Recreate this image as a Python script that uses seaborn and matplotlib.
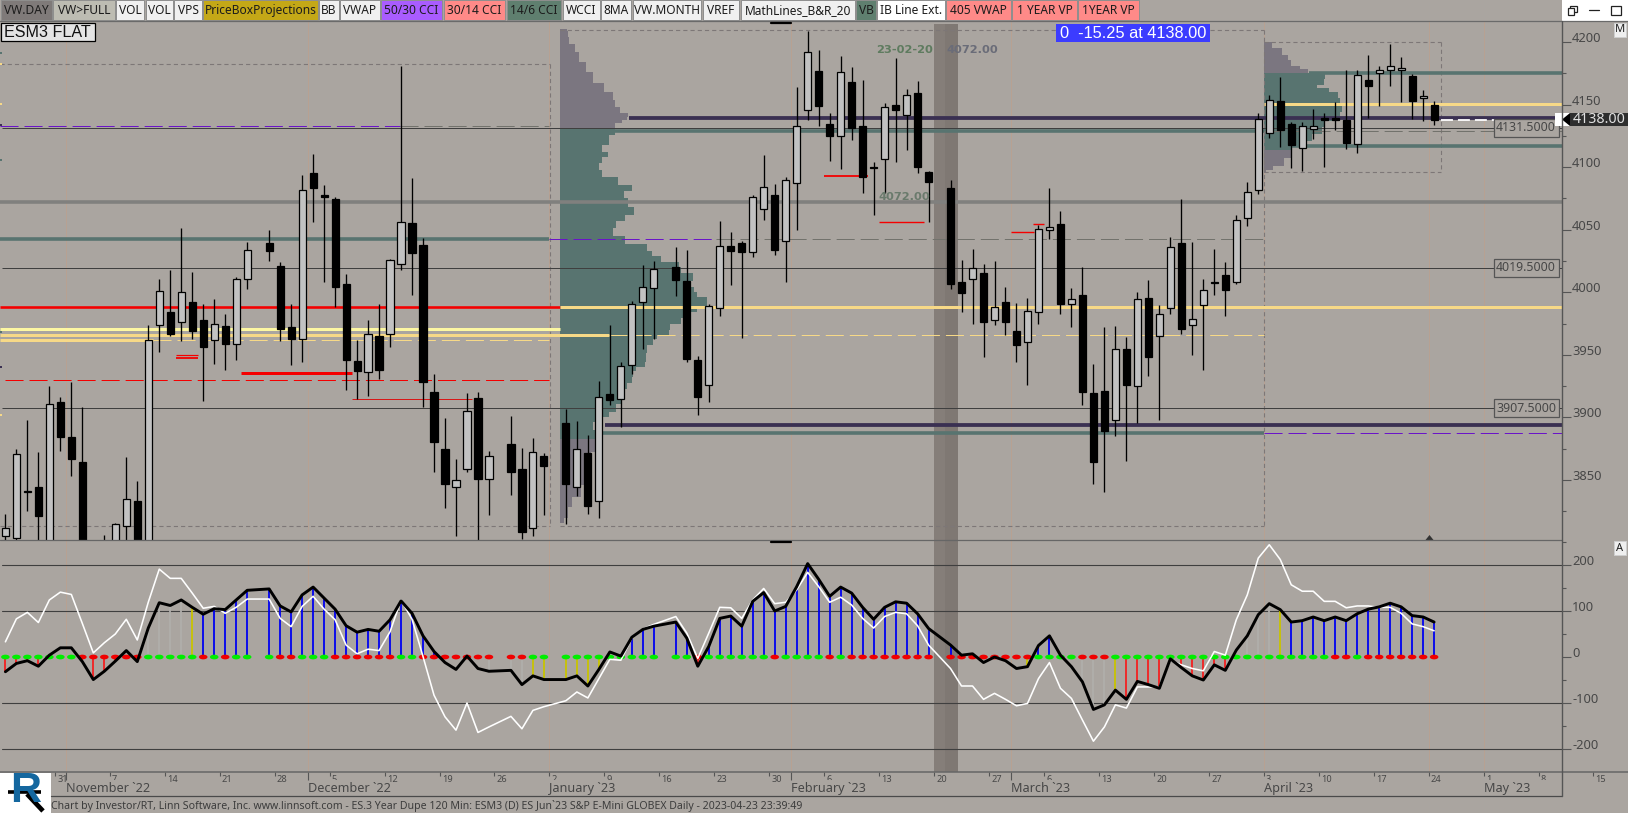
# plot.py
import numpy as np
import pandas as pd
import matplotlib
matplotlib.use('Agg')
import matplotlib.pyplot as plt
import seaborn as sns
from matplotlib.path import Path
from matplotlib.patches import Rectangle, Polygon
from matplotlib.transforms import Affine2D, Bbox, TransformedBbox, blended_transform_factory

nan = np.nan

# daily candles, one entry per weekday slot from 24 Oct 2022, nan = no session / off chart
open_px = [3805,3804,3841,3844,3800,3912,3884,3864,nan,3785,
           3795,3813.5,3833,3795,3974,3984,3976,3992,3978,3961.5,
           3973,3959,4011,nan,4039,4021,3972,3963,4095.5,4077.5,
           4074.5,4007,3945,3936.5,3965,3967,4023,4055,4037.5,3920.5,
           3874.5,3844,3858.5,3915.5,3851,nan,3879,3859,3812,3869.5,
           nan,3895.5,3844,3871.5,3833.5,3919,3915,3942,3992.5,4003.5,
           nan,4020,4009,3946,3926,3987.5,4037,4039.5,4032,4066.5,
           4078,4041,4087,4146,4177,4134.5,4124.5,4168,4133,4100,
           4106.5,4150,4142,4159,4096,nan,4083,4008.5,4011,4015.5,
           3977.5,3992.5,3969,3960.5,3984,4050,4054.5,3991,3998,3919.5,
           3921,3898,3954.5,3925.5,3995.5,3965,3987.5,4039,3973.5,3989.5,
           4008.5,4014,4008,4059,4082,4127.5,4153,4134.5,4115,4130.5,
           4139,4139,4137.5,4118.5,4169.5,4175,4178,4177.5,4172.5,4155,4150]
high_px = [3823,3875,3898,3872,3925,3916,3928,3908,nan,3806,
           3816,3868,3849,3974,4011,4018,4051,4016,3991,3995,
           3983,4012.5,4040,nan,4050,4024,3991,4094,4110.5,4086,
           4076.5,4015,3962,3978,3991,4027,4181,4091.5,4043,3934.5,
           3899.5,3866.5,3919.5,3920.5,3873,nan,3901,3875.5,3883.5,3871.5,
           nan,3907,3897,3886,3929,3974,3944,3993,4022,4025,
           nan,4036,4034,3949,3991,4057,4048,4041,4078,4110,
           4086.5,4092,4164,4209,4194,4143,4189,4180,4170,4104.5,
           4151,4187,4162.5,4169,4097,nan,4090,4026,4034.5,4023,
           4025,4004,3991.5,3995.5,4054,4083.5,4065,4003.5,4020,3942.5,
           3972.5,3973,3964.5,4000,4010,3989.5,4044,4074.5,4040,4011,
           4034.5,4024.5,4062,4088,4143,4158,4172,4136,4136,4146.5,
           4143,4152,4178,4177.5,4189.5,4181,4198.5,4188,4174.5,4161.5,4152.5]
low_px = [3790,3795,3825,3800,3790,3873,3853,3795,nan,3775,
          3790,3795,3795,3790,3952,3965,3961,3963,3913,3943,
          3938,3946,4003,nan,4025,3961,3942,3944,4056,4008,
          3988,3922,3914.5,3917,3931,3956,4018,3998,3908.5,3856,
          3828,3805,3856.5,3801,3822,nan,3838,3803,3805,3822,
          nan,3815,3837,3823,3820,3910,3892.5,3934.5,3954.5,3963,
          nan,3997,3944.5,3902,3912.5,3981,4006,3963.5,4028,4058,
          4030,4008.5,4049.5,4137.5,4133,4105,4098.5,4122,4079,4061.5,
          4079.5,4104.5,4113.5,4095.5,4056.5,nan,4002.5,3984.5,3974.5,3948.5,
          3974,3966,3944,3926,3974.5,4042.5,3982.5,3972.5,3910,3847,
          3840,3885.5,3865.5,3895.5,3933.5,3898,3982.5,3966.5,3949.5,3938,
          3998,3981,4006.5,4053,4078.5,4123.5,4116.5,4099.5,4097,4122.5,
          4100,4130,4114.5,4111,4139,4149,4165,4152,4138.5,4136.5,4133.5]
close_px = [3812,3870.5,3840,3821,3911,3884,3867,3800,nan,3795,
            3815,3835,3800,3961.5,4001,3967,4000,3969,3956,3974.5,
            3959,4010.5,4034,nan,4033,3971,3963,4081.5,4083,4076.5,
            4004,3946,3937,3966.5,3937.5,4025.5,4056,4031.5,3928,3880,
            3846.5,3850,3905.5,3850.5,3869.5,nan,3856,3808.5,3872,3861.5,
            nan,3847,3874.5,3829.5,3916,3914,3941,3990.5,4004,4018.5,
            nan,4010,3946.5,3916.5,3989,4037,4033,4032.5,4076,4084.5,
            4033.5,4090,4132.5,4192,4148.5,4124.5,4176,4131.5,4092.5,4099,
            4148,4146,4158,4100.5,4088.5,nan,4007,3999.5,4019.5,3976.5,
            3988,3976.5,3957.5,3985,4050.5,4052.5,3990.5,3995,3920.5,3864,
            3889,3954.5,3926,3995,3948,3983,4036,3971,3978.5,4001.5,
            4007.5,4002,4058,4080.5,4138.5,4154,4130,4118,4132.5,4132.5,
            4137.5,4137.5,4119.5,4173.5,4164.5,4177.5,4180.5,4179,4153,4157,4138]

# slow and fast CCI, same slots
cci_slow = [-32,-14,-8,-20,4,20,20,-10,-49,-31,
            -9,14,-10,63,118,112,124,108,93,105,
            103,124,145,nan,148,111,98,135,152,128,
            104,68,54,60,56,81,122,95,46,12,
            -12,-27,2,-25,-31,nan,-29,-60,-41,-49,
            nan,-49,-41,-63,-27,11,2,43,60,67,
            nan,76,41,-20,23,84,89,67,121,140,
            100,110,153,203,169,132,152,139,108,82,
            108,120,117,94,62,nan,26,4,7,-12,
            0,-8,-25,-21,25,46,4,-21,-54,-114,
            -104,-72,-92,-53,-60,-68,-4,-23,-41,-50,
            -17,-29,15,46,92,116,103,76,79,87,
            79,87,79,94,104,109,117,109,90,87,76]
cci_fast = [33,83,97,75,124,141,136,73,9,31,
            50,82,37,119,191,171,171,139,106,110,
            95,108,126,nan,126,84,66,110,132,104,
            81,26,7,17,14,55,124,82,1,-83,
            -130,-159,-100,-164,-152,nan,-129,-156,-116,-108,
            nan,-95,-76,-89,-47,-5,-7,41,61,71,
            nan,88,52,-3,52,108,107,84,124,149,
            116,119,146,184,153,119,130,113,84,63,
            88,97,94,68,26,nan,-25,-63,-63,-92,
            -79,-92,-106,-101,-47,-12,-68,-90,-137,-183,
            -152,-104,-111,-65,-65,-65,-7,-17,-25,-30,
            12,4,81,135,215,244,212,157,143,143,
            121,121,107,111,111,108,108,95,72,66,57]
# g/r = zero line dot, b/r/n/y = histogram state, '.' = nothing
dot_state = ('gggggggrrr' 'rrrgggggrg' 'rgg.grrggg' 'rrrrrrggrr' 'rrrrr.rrgg'
             '.ggggggggg' '.ggrgggggg' 'rggggrgrrr' 'rrrrr.rrrr' 'rrrrggggrr'
             'rggggggggg' 'gggggggggg' 'grrgrrrrrrr')
hist_state = ('rrrr...rrr' 'r.rnnnnybb' 'bbb.bbbbbb' 'bbbbbbbbbb' '....n.nnyy'
              '.yyyy..bbb' '.bbrbbbbbb' 'bbbbbbbbbb' 'bbbbb.b...' '...ybb..nn'
              'nyrrrrrrrr' 'rr.nnnybbb' 'bbbbbbbbbbb')

# volume profiles, price / volume
big_vp_price = [4210.2,4207,4201.7,4195,4188.3,4180.3,4171,4163.8,4156.4,4151,4144.4,4141.7,4139,4136.4,4133.7,
                4129.2,4121.7,4113.7,4111,4105.8,4100.4,4095.1,4088.4,4083.1,4079.1,4072.2,4064.5,4059.1,4054.6,
                4048.5,4041.8,4035.2,4031.2,4027.2,4021.8,4019.2,4011.2,4007.2,4001.9,3999.2,3992.5,3989.9,3985.9,
                3981.9,3976.6,3972.6,3967.2,3965.1,3960.6,3955.2,3947.3,3941.9,3939.3,3935.3,3928.6,3925.9,3919.3,
                3914,3907.3,3902,3898,3894,3886,3879.3,3866,3852.7,3839.4,3834,3823.4,3815.4]
big_vp_vol = [6.4,7.5,8.2,14.6,19,26,33,44,53,55,60,68,67,62,55,
              55,49,42,48,42,39,42,58,72,64,68,74,65,56,
              53,65,87,92,101,119,121,133,128,134,137,147,147,137,
              130,121,110,109,97,93,87,86,85,76,73,72,67,65,
              61,56,49,37,33,35,35,31,24,21,12,8,4]
month_vp_price = [4199.8,4191,4188.3,4183,4179,4177.1,4173.7,4167,4164.9,4161.7,4157.7,4152.4,4148.4,4140.4,4133.7,
                  4129.7,4123.1,4119.1,4115.6,4111.1,4103.1,4099.1,4095.6]
month_vp_vol = [8.7,18,24,27,36,44,61,60,53,65,74,76,78,76,60,58,48,43,27,27,20,9,2]

# price levels
price_ticks = [3850,3900,3950,4000,4050,4100,4150,4200]
price_minor = [3825,3875,3925,3975,4025,4075,4125,4175]
cci_ticks = [-200,-100,0,100,200]
cci_minor = [-150,-50,50,150,250]
ref_levels = [4131.5,4019.5,3907.5]
last_price = 4138.0

week_labels = ['31','7','14','21','28','5','12','19','26','2','9','16','23','30','6','13','20','27',
               '6','13','20','27','3','10','17','24','1','8','15']
month_labels = ['November `22','December `22','January `23','February `23','March `23','April `23','May `23']
month_start = [5.5,27.5,49.5,71.5,91.5,114.5,134.5]

buttons = [('VW.DAY',1,52,'#7f7a79'),('VW>FULL',52.5,115,'#bdbcb2'),('VOL',116,144,'#f0f0f0'),
           ('VOL',146,173,'#f0f0f0'),('VPS',174,202,'#f0f0f0'),('PriceBoxProjections',203,318,'#c4a817'),
           ('BB',319,338.6,'#f0f0f0'),('VWAP',340,380,'#f0f0f0'),('50/30 CCI',381,442,'#a95cff'),
           ('30/14 CCI',443.6,505,'#ff8a88'),('14/6 CCI',507,561.4,'#5f7f6f'),('WCCI',563,600,'#f0f0f0'),
           ('8MA',601,631,'#f0f0f0'),('VW.MONTH',632.5,701.4,'#f0f0f0'),('VREF',703,739,'#f0f0f0'),
           ('MathLines_B&R_20',741,855,'#f0f0f0'),('VB',856.4,875.7,'#5f7f6f'),('IB Line Ext.',877,944.6,'#ffffff'),
           ('405 VWAP',946,1010.7,'#ff8a88'),('1 YEAR VP',1012,1077,'#ff8a88'),('1YEAR VP',1078,1138.7,'#ff8a88')]

BG = '#aaa5a0'
TEAL = '#587470'
MAUVE = '#7b7680'
NAVY = '#3a3052'
GREY = '#80807e'
RED = '#f40000'
GOLD = '#f7d987'
PURPLE = '#6a14c8'
DGREY = '#72726c'
INK = '#474747'

sns.set_theme(style='white', rc={'figure.facecolor': BG, 'axes.facecolor': BG, 'axes.unicode_minus': False,
                                 'lines.scale_dashes': False})
plt.rcParams['font.family'] = ['Noto Sans', 'DejaVu Sans']

W, H = 1628, 813
LONG_DASH = (0, (13, 4.3))
X0, X1 = -0.491, 141.6


def px_axes(left, top, right, bottom):
    return fig.add_axes([left / W, 1 - bottom / H, (right - left) / W, (bottom - top) / H])


def level(price, x0, x1, color, px=4.0, ls='-', z=3):
    ax.plot([x0, x1], [price, price], color=color, lw=px * 0.72, ls=ls, solid_capstyle='butt',
            dash_capstyle='butt', zorder=z)


def vp_bars(base, prices, vols, vah, val):
    # each bin runs half way to its neighbours so the profile has no seams
    p = np.array(prices)
    edges = np.concatenate([[p[0]], (p[:-1] + p[1:]) / 2, [p[-1]]])
    colors = [TEAL if val <= v <= vah else MAUVE for v in p]
    ax.barh((edges[:-1] + edges[1:]) / 2, np.array(vols) / 10.99, height=np.abs(np.diff(edges)), left=base,
            color=colors, lw=0, antialiased=False, zorder=2)


def dash_box(x0, x1, top, bottom):
    for xs, ys in [([x0, x1], [top, top]), ([x0, x1], [bottom, bottom]), ([x1, x1], [top, bottom])]:
        ax.plot(xs, ys, color='#7d7777', lw=0.8, ls=(0, (3, 2.2)), zorder=2.5)


fig = plt.figure(figsize=(W / 100, H / 100), dpi=100)
ax = px_axes(0, 21.5, 1561.6, 540.3)
ax_cci = px_axes(0, 540.3, 1561.6, 771.7)
ax_date = px_axes(0, 771.7, W, 796)

slots = np.arange(len(open_px))
o, h, l, c = map(np.array, (open_px, high_px, low_px, close_px))

# shared vertical furniture
for a, band_top in ((ax, 0.995), (ax_cci, 1)):
    a.set_xlim(X0, X1)
    a.axvspan(84.5, 86.7, ymax=band_top, color='#7f7873', lw=0, zorder=1)
    a.axvspan(84.5, 85.5, ymax=band_top, color='#857e79', lw=0, zorder=1)
    for m in month_start + [129.5]:
        a.axvline(m, color='#b8a192', lw=0.7, zorder=1.2)
    a.grid(False)
    for s in a.spines.values():
        s.set_visible(False)
    a.set_xticks([])

# price panel
ax.set_ylim(3801.8, 4216.4)
vp_bars(50.5, big_vp_price, big_vp_vol, 4131, 3886)
vp_bars(114.5, month_vp_price, month_vp_vol, 4176.5, 4115.6)
ax.set_xlim(X0, X1)
dash_box(X0, 49.55, 4182.2, 3813.5)
dash_box(50.5, 114.55, 4210, 3813.5)
dash_box(114.55, 130.6, 4199.8, 4095.9)

for p in ref_levels:
    level(p, X0 + 0.2, X1, '#3f3f3f', 1.0)
level(4072, X0, X1, GREY, 3.6)
level(4042.6, X0, 49.5, TEAL, 3.6)
level(4042.6, 49.5, 64.7, PURPLE, 1.0, LONG_DASH)
level(4042.6, 64.7, 114.5, DGREY, 1.0, LONG_DASH)
level(4133.2, X0, 35.9, PURPLE, 1.0, LONG_DASH)
level(4133.2, 35.9, 49.5, DGREY, 1.0, LONG_DASH)
level(4139.6, 56.7, X1, NAVY, 3.8)
level(4128.9, 55.5, 114.5, TEAL, 3.6)
level(4128.9, 114.5, X1, DGREY, 1.0, LONG_DASH)
level(4175.3, 118.6, X1, TEAL, 3.6)
level(4117.2, 117, X1, TEAL, 3.6)
level(4150.2, 114.5, X1, GOLD, 3)
level(3988.3, X0, 50.5, RED, 2.6)
level(3970.4, X0, 50.5, '#fdf7a2', 3)
level(3965.6, X0, 54.9, GOLD, 3)
level(3965.6, 54.9, 114.5, GOLD, 1.0, LONG_DASH)
level(3961.6, X0, 13.4, GOLD, 3)
level(3961.6, 13.4, 49.5, GOLD, 1.0, LONG_DASH)
level(3988, 50.5, X1, GOLD, 3)
level(3929.7, X0 + 0.5, 49.5, RED, 1.0, LONG_DASH)
level(3894, 54.6, X1, NAVY, 3.8)
level(3887.6, 54.3, 114.5, TEAL, 3.6)
level(3887.3, 114.5, X1, PURPLE, 1.0, LONG_DASH)
level(3949.7, 15.5, 17.5, RED, 1.2)
level(3947.5, 15.5, 17.5, RED, 1.8)
level(3935.3, 21.4, 31.5, RED, 3)
level(3914.5, 31.5, 42.5, '#d81818', 1.0)
level(4093.2, 74.5, 78.5, RED, 1.8)
level(4055.9, 79.5, 83.6, RED, 1.4)
level(4048, 91.5, 93.6, RED, 1.4)
level(4054.3, 93.5, 94.5, RED, 1.4)

ax.vlines(slots, l, h, color='black', lw=0.95, zorder=4)
body_fill = ['#c2c2c2' if b >= a else 'black' for a, b in zip(o, c)]
ax.bar(slots, np.abs(c - o), bottom=np.minimum(o, c), width=0.65, color=body_fill,
       edgecolor='black', linewidth=0.9, zorder=5)
level(last_price, 130.6, X1, 'white', 1.8, (0, (8.6, 3.6)), z=6)

ax.yaxis.tick_right()
ax.set_yticks(price_ticks)
ax.set_yticks(price_minor, minor=True)
ax.tick_params(axis='y', which='major', length=6.5, width=0.8, color='#555555', labelcolor=INK, labelsize=9.3, pad=1)
ax.tick_params(axis='y', which='minor', length=3, width=0.8, color='#555555')
for t in ax.get_yticklabels():
    t.set_va('baseline')

for p in ref_levels:
    ax.text(141.1, p, f'{p:.4f}', ha='right', va='center', color=INK, fontsize=8.9, zorder=8,
            bbox=dict(boxstyle='square,pad=0.2', fc=BG, ec='#555555', lw=0.9))

ax.text(79.2, 4193.5, '23-02-20', color='#5e7b5f', fontsize=8.2, fontweight='bold', family='DejaVu Sans', zorder=6, va='center')
ax.text(85.6, 4193.5, '4072.00', color='#6a6c78', fontsize=8.2, fontweight='bold', family='DejaVu Sans', zorder=6, va='center')
ax.text(79.4, 4076.5, '4072.00', color='#6a7a6c', fontsize=8.2, fontweight='bold', family='DejaVu Sans', zorder=6, va='center')

# cci panel
ax_cci.set_ylim(-249.3, 253.7)
for g in (-200, -100, 100, 200):
    ax_cci.plot([X0 + 0.2, X1], [g, g], color='#3f3f3f', lw=0.8, zorder=1.5)

cci_df = pd.DataFrame({'slot': slots, 'slow': cci_slow, 'fast': cci_fast,
                       'dot': list(dot_state), 'hist': list(hist_state)})
hist_colors = {'b': '#0000f0', 'r': '#f42020', 'n': '#b0aeab', 'y': '#c8c400'}
for state, color in hist_colors.items():
    part = cci_df[cci_df['hist'] == state]
    ax_cci.vlines(part['slot'], 0, part['slow'], color=color, lw=1.3, zorder=2)

dots = cci_df[cci_df['dot'] != '.']
oval = Path.unit_circle().transformed(Affine2D().scale(1, 0.55))
sns.scatterplot(data=dots, x='slot', y=np.zeros(len(dots)), hue='dot', palette={'g': '#00ee00', 'r': '#f00000'},
                marker=oval, s=38, linewidth=0, legend=False, zorder=3, ax=ax_cci)
sns.lineplot(data=cci_df.dropna(subset=['fast']), x='slot', y='fast', color='white', lw=1.15,
             estimator=None, zorder=4, ax=ax_cci)
sns.lineplot(data=cci_df.dropna(subset=['slow']), x='slot', y='slow', color='black', lw=2.1,
             estimator=None, zorder=5, ax=ax_cci)
ax_cci.set_xlim(X0, X1)
ax_cci.set_xlabel('')
ax_cci.set_ylabel('')
ax_cci.yaxis.tick_right()
ax_cci.set_yticks(cci_ticks)
ax_cci.set_yticks(cci_minor, minor=True)
ax_cci.tick_params(axis='y', which='major', length=6.5, width=0.8, color='#555555', labelcolor=INK, labelsize=9.3, pad=1)
ax_cci.tick_params(axis='y', which='minor', length=3, width=0.8, color='#555555')
for t in ax_cci.get_yticklabels():
    t.set_va('baseline')

# date row, runs past the plot area
ax_date.set_xlim(X0, (W - 5.4) / 10.99)
ax_date.set_ylim(0, 1)
ax_date.set_yticks([])
for s in ax_date.spines.values():
    s.set_visible(False)
ax_date.grid(False)
ax_date.xaxis.tick_top()
week_pos = [4.5 + 5 * k for k in range(len(week_labels))]
ax_date.set_xticks(week_pos)
ax_date.set_xticklabels([])
ax_date.set_xticks(month_start, minor=True)
ax_date.tick_params(axis='x', which='major', direction='in', length=3, width=0.8, color='#555555')
ax_date.tick_params(axis='x', which='minor', direction='in', length=6, width=0.8, color='#555555')
date_tr = blended_transform_factory(ax_date.transData, ax_date.transAxes)
for pos, lab in zip(week_pos, week_labels):
    t = ax_date.text(pos + 0.2, 0.69, lab, transform=date_tr, fontsize=6.6, color=INK, ha='left', va='center')
    if len(lab) == 1:
        # single digits are cut off by the row below in the original
        t.set_clip_box(TransformedBbox(Bbox([[0, 0.66], [1, 1]]), ax_date.transAxes))
        t.set_clip_on(True)
for pos, lab in zip(month_start, month_labels):
    ax_date.text(pos, 0.32, lab, transform=date_tr, fontsize=9.1, color=INK, ha='left', va='center')

# window chrome in pixel space
chrome = fig.add_axes([0, 0, 1, 1], zorder=10)
chrome.set_xlim(0, W)
chrome.set_ylim(H, 0)
chrome.axis('off')
chrome.patch.set_alpha(0)
chrome.plot([0, W], [21.5, 21.5], color='#6a6a6a', lw=0.9)
chrome.plot([0, 1561.6], [540.3, 540.3], color='#666666', lw=0.9)
chrome.plot([0, W], [771.7, 771.7], color='#666666', lw=1.1)
chrome.plot([51, 1561.6], [796.3, 796.3], color='#4a4a4a', lw=0.9)
chrome.plot([1561.6, 1561.6], [21.5, 796.3], color='#555555', lw=1.0)

for name, x0, x1, color in buttons:
    chrome.add_patch(Rectangle((x0, 0.5), x1 - x0, 20, fc=color, ec='#8e8e8e', lw=0.7))
    chrome.text((x0 + x1) / 2, 10.8, name, ha='center', va='center', fontsize=8.6, color='#1c1c1c')

chrome.add_patch(Rectangle((1, 23.5), 93.5, 18, fc='#e4e4e4', ec='black', lw=0.9))
chrome.text(4.5, 32.7, 'ESM3 FLAT', family='Liberation Sans', fontsize=11.6, color='#111111', va='center')
chrome.add_patch(Rectangle((1056, 24), 154, 18, fc='#3c3cff', lw=0))
chrome.text(1060, 33, '0  -15.25 at 4138.00', family='Liberation Sans', fontsize=11.8, color='white', va='center')
chrome.plot([771.4, 790.7], [23.5, 23.5], color='black', lw=1.6)
chrome.plot([771.4, 790.7], [541.7, 541.7], color='black', lw=1.6)
chrome.add_patch(Polygon([[1425.5, 540], [1433.5, 540], [1429.5, 535]], fc='#333333', lw=0))

# last price flag
chrome.add_patch(Rectangle((1555, 113), 15, 13, fc='white', lw=0))
chrome.add_patch(Polygon([[1562, 119.5], [1570, 113], [1570, 126]], fc='black', lw=0))
chrome.add_patch(Rectangle((1570, 113), 58, 13, fc='#2e2e2e', lw=0))
chrome.text(1599, 119.5, f'{last_price:.2f}', ha='center', va='center', color='#e2e2e2', fontsize=10.2)

for label, y0 in (('M', 23), ('A', 541)):
    chrome.add_patch(Rectangle((1613.7, y0), 12.5, 14, fc='#efefef', ec='#cfcfcf', lw=0.7))
    chrome.text(1620, y0 + 7, label, ha='center', va='center', fontsize=8, color='#222222')

# min / restore / close box
chrome.add_patch(Rectangle((1562, 0), 66, 21, fc='white', lw=0))
chrome.add_patch(Rectangle((1570, 6), 6.5, 6.5, fc='white', ec='#222222', lw=0.9))
chrome.add_patch(Rectangle((1567.6, 8.5), 6.5, 6.5, fc='white', ec='#222222', lw=0.9))
chrome.plot([1589, 1599], [10.5, 10.5], color='#222222', lw=0.9)
chrome.add_patch(Rectangle((1611, 6), 10, 9, fc='white', ec='#222222', lw=0.9))

# left edge markers
for y0, color in ((53, '#587470'), (64, GOLD), (104, GOLD), (125, NAVY), (160, TEAL), (332, TEAL), (367, NAVY), (415, GOLD)):
    chrome.add_patch(Rectangle((0, y0 - 1), 2, 2, fc=color, lw=0))

# logo and footer
chrome.add_patch(Rectangle((0, 772.7), 51, 41, fc='white', lw=0))
chrome.text(26, 791, 'R', family='Liberation Sans', fontweight='bold', fontsize=31, color='#14679f',
            ha='center', va='center')
chrome.plot([27, 43], [794, 811], color='black', lw=3.4, solid_capstyle='butt')
chrome.plot([8, 41], [792, 792], color='black', lw=2.6, solid_capstyle='butt')
chrome.text(51, 805.5, 'Chart by Investor/RT, Linn Software, Inc. www.linnsoft.com - ES.3 Year Dupe 120 Min: ESM3 (D) '
            'ES Jun`23 S&P E-Mini GLOBEX Daily - 2023-04-23 23:39:49', fontsize=7.6, color='#3c3c3c', va='center')

plt.savefig('out.png', dpi=100, facecolor=BG)
